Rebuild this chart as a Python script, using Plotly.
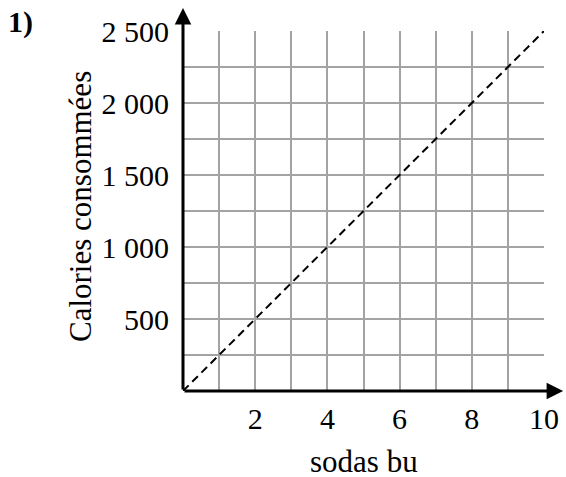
import plotly.graph_objects as go

# data
sodas = [0, 10]
calories = [0, 2500]
x_ticks = [2, 4, 6, 8, 10]
y_ticks = [500, 1000, 1500, 2000, 2500]
y_ticktext = ["500", "1 000", "1 500", "2 000", "2 500"]

FONT = "Liberation Serif, Times New Roman, serif"
GRID = "#a3a3a3"

fig = go.Figure()

fig.add_trace(go.Scatter(
    x=sodas,
    y=calories,
    mode="lines",
    line=dict(color="black", width=2, dash="8px,5px"),
    hoverinfo="skip",
    showlegend=False,
))

annotations = [
    # axes with arrows
    dict(x=10.53, y=0, ax=0, ay=0, xref="x", yref="y", axref="x", ayref="y",
         text="", showarrow=True, arrowhead=2, arrowsize=1.1, arrowwidth=3,
         arrowcolor="black"),
    dict(x=0, y=2660, ax=0, ay=0, xref="x", yref="y", axref="x", ayref="y",
         text="", showarrow=True, arrowhead=2, arrowsize=1.1, arrowwidth=3,
         arrowcolor="black"),
    # axis titles
    dict(x=0, y=0.5, xref="paper", yref="paper", xanchor="center", yanchor="middle",
         xshift=-103, yshift=4,
         text="Calories consommées", textangle=-90, showarrow=False,
         font=dict(family=FONT, size=31, color="black")),
    dict(x=0.5, y=0, xref="paper", yref="paper", xanchor="center", yanchor="middle",
         yshift=-70,
         text="sodas bu", showarrow=False,
         font=dict(family=FONT, size=31, color="black")),
    # question number
    dict(x=0, y=1, xref="paper", yref="paper", xanchor="center", yanchor="middle",
         xshift=-163, yshift=9,
         text="<b>1)</b>", showarrow=False,
         font=dict(family=FONT, size=30, color="black")),
]

fig.update_layout(
    width=566,
    height=477,
    margin=dict(l=183, r=22, t=31, b=86),
    paper_bgcolor="white",
    plot_bgcolor="white",
    font=dict(family=FONT, size=30, color="black"),
    xaxis=dict(
        range=[0, 10],
        tickvals=list(range(0, 11)),
        ticktext=[str(v) if v in x_ticks else "" for v in range(0, 11)],
        showgrid=True,
        gridcolor=GRID,
        gridwidth=2,
        zeroline=False,
        showline=False,
        ticks="",
        ticklabelstandoff=7,
        automargin=False,
        fixedrange=True,
    ),
    yaxis=dict(
        range=[0, 2500],
        tickvals=list(range(0, 2750, 250)),
        ticktext=[y_ticktext[y_ticks.index(v)] if v in y_ticks else ""
                  for v in range(0, 2750, 250)],
        showgrid=True,
        gridcolor=GRID,
        gridwidth=2,
        zeroline=False,
        showline=False,
        ticks="",
        ticklabelstandoff=13,
        automargin=False,
        fixedrange=True,
    ),
    annotations=annotations,
    showlegend=False,
)

# page has a default 8px body margin; drop it so the figure sits at 0,0
fig.write_html("out.html", config={"displayModeBar": False},
               post_script="document.body.style.margin='0';")
